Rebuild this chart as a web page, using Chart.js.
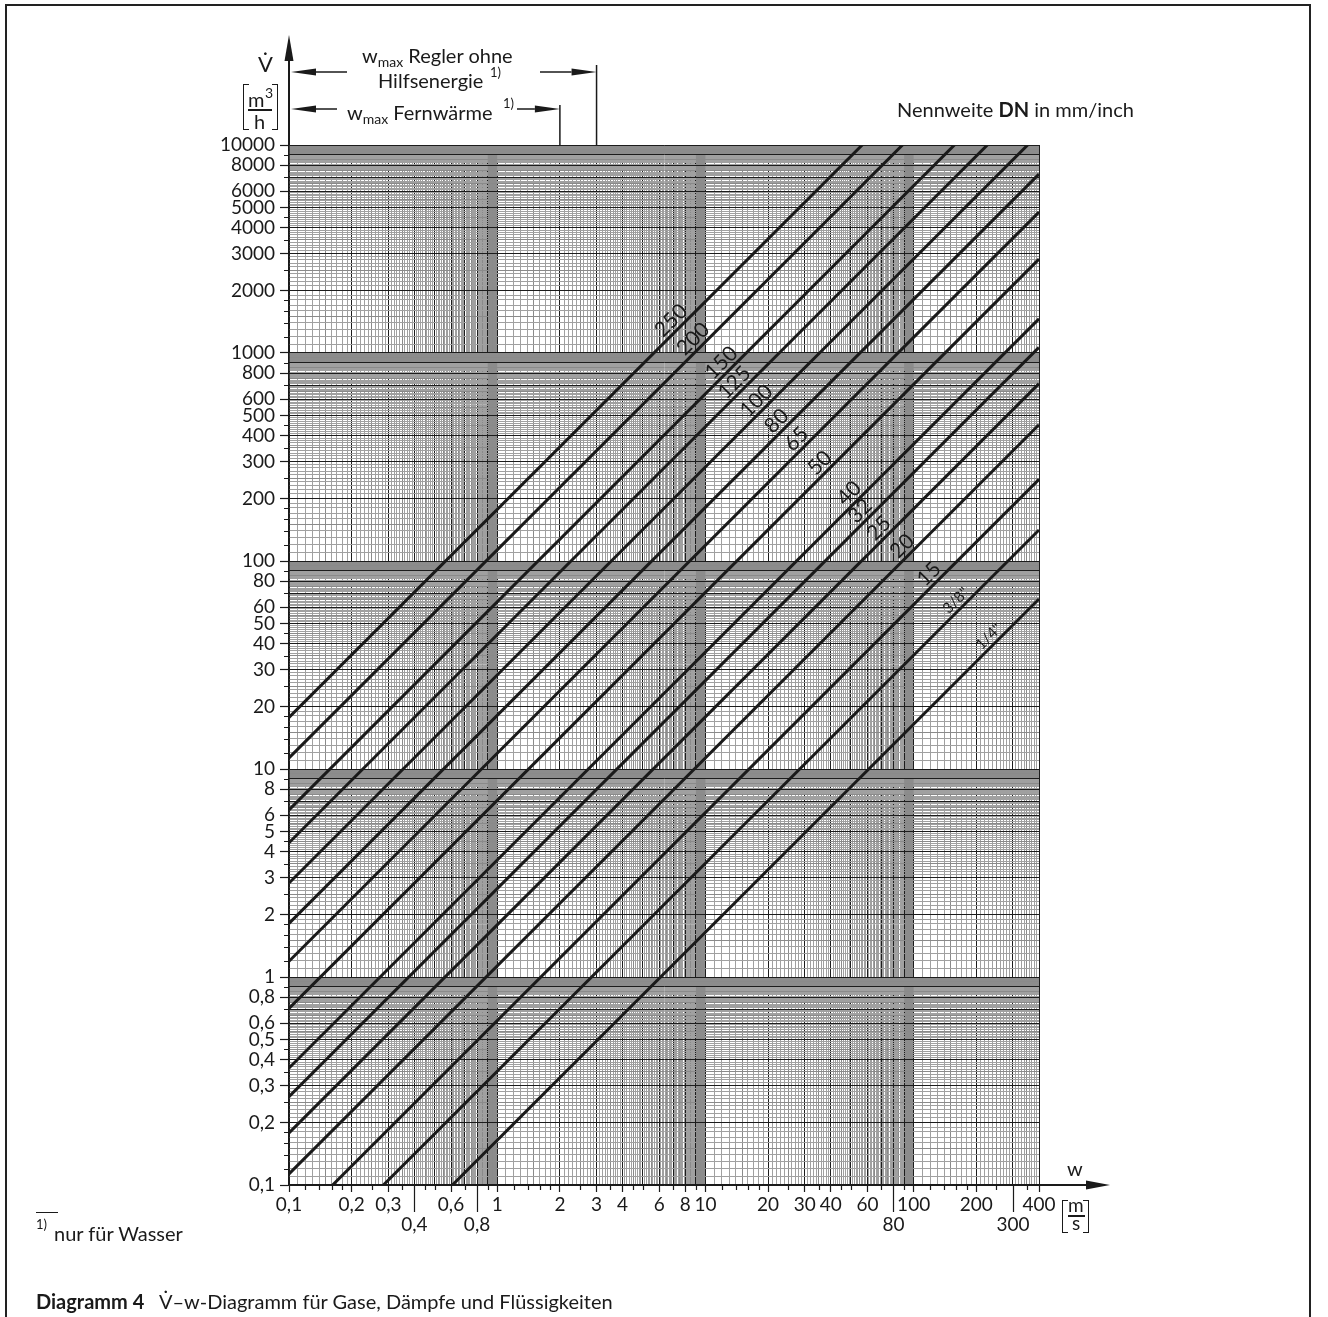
<!DOCTYPE html>
<html lang="de">
<head>
<meta charset="utf-8">
<title>V̇–w-Diagramm</title>
<script src="https://cdn.jsdelivr.net/npm/chart.js@4.4.1/dist/chart.umd.min.js"></script>
<style>
  html, body { margin: 0; padding: 0; background: #fff; }
  body { width: 1328px; height: 1317px; position: relative; overflow: hidden;
         font-family: Lato, 'Open Sans', sans-serif; color: #1a1a1a; }
  #frame { position: absolute; left: 5px; top: 4px; width: 1306px; height: 1340px;
           border: 2px solid #222; box-sizing: border-box; }
  #chart { position: absolute; left: 0; top: 0; }
  .t { position: absolute; white-space: nowrap; font-size: 20px; line-height: 20px; }
  .sub { font-size: 14px; position: relative; top: 4px; }
  .sup { position: absolute; white-space: nowrap; font-size: 13px; line-height: 13px; }
  .bl { position: absolute; width: 5px; border: 1.6px solid #1a1a1a; border-right: none; }
  .br { position: absolute; width: 5px; border: 1.6px solid #1a1a1a; border-left: none; }
  .bar { position: absolute; height: 1.5px; background: #1a1a1a; }
  b { font-weight: 700; }
</style>
</head>
<body>
<div id="frame"></div>
<canvas id="chart" width="1328" height="1317"></canvas>

<!-- y axis title -->
<div class="t" style="left:258px; top:54px; font-size:22px;">V̇</div>
<div class="bl" style="left:243px; top:84px; height:44px;"></div>
<div class="br" style="left:272px; top:84px; height:44px;"></div>
<div class="t" style="left:248px; top:89px;">m</div>
<div class="sup" style="left:265px; top:86px; font-size:14px;">3</div>
<div class="bar" style="left:248px; top:109px; width:24px;"></div>
<div class="t" style="left:254px; top:111px;">h</div>

<!-- w_max annotations -->
<div class="t" style="left:362px; top:45px;">w<span class="sub">max</span> Regler ohne</div>
<div class="t" style="left:378px; top:70px;">Hilfsenergie</div>
<div class="sup" style="left:490px; top:66px;">1)</div>
<div class="t" style="left:347px; top:102px;">w<span class="sub">max</span> Fernwärme</div>
<div class="sup" style="left:503px; top:97px;">1)</div>

<div class="t" style="left:897px; top:99px;">Nennweite <b>DN</b> in mm/inch</div>

<!-- x axis title -->
<div class="t" style="left:1067px; top:1158px;">w</div>
<div class="bl" style="left:1062px; top:1200px; height:31px;"></div>
<div class="br" style="left:1083px; top:1200px; height:31px;"></div>
<div class="t" style="left:1068px; top:1195px; font-size:19px;">m</div>
<div class="bar" style="left:1068px; top:1215px; width:17px;"></div>
<div class="t" style="left:1072px; top:1213px; font-size:19px;">s</div>

<!-- footnote and caption -->
<div class="bar" style="left:36px; top:1212px; width:22px; height:1px;"></div>
<div class="sup" style="left:36px; top:1218px;">1)</div>
<div class="t" style="left:54px; top:1223px; font-size:20px;">nur für Wasser</div>
<div class="t" style="left:36px; top:1291px; font-size:20px;"><b>Diagramm 4</b>&nbsp;&nbsp; V̇–w-Diagramm für Gase, Dämpfe und Flüssigkeiten</div>

<script>
// nominal size of each line (DN in mm or inch)
const dnLabels = ['250', '200', '150', '125', '100', '80', '65', '50', '40', '32', '25', '20', '15', '3/8"', '1/4"'];
// line end points: velocity w [m/s] and flow V [m3/h]
const startW = [0.1, 0.1, 0.1, 0.1, 0.1, 0.1, 0.1, 0.1, 0.1, 0.1, 0.1, 0.1, 0.162, 0.284, 0.609];
const startV = [17.7, 11.3, 6.36, 4.42, 2.83, 1.81, 1.19, 0.707, 0.365, 0.266, 0.178, 0.113, 0.1, 0.1, 0.1];
const endW = [56.6, 88.4, 157, 226, 353, 400, 400, 400, 400, 400, 400, 400, 400, 400, 400];
const endV = [10000, 10000, 10000, 10000, 10000, 7240, 4760, 2830, 1460, 1064, 712, 452, 247, 141, 65.7];
// where along each line its DN label sits (w value)
const labelAtW = [7.44, 9.5, 12.97, 14.98, 19.1, 23.9, 29.8, 38.5, 53.3, 60.1, 74.2, 95.8, 129, 171, 246];

// w_max limits (vertical marks above the plot)
const wRegler = 3;
const wFern = 2;

// tick labels
const xRow1 = [0.1, 0.2, 0.3, 0.6, 1, 2, 3, 4, 6, 8, 10, 20, 30, 40, 60, 100, 200, 400];
const xRow2 = [0.4, 0.8, 80, 300];
const yLabels = [0.1, 0.2, 0.3, 0.4, 0.5, 0.6, 0.8, 1, 2, 3, 4, 5, 6, 8, 10, 20, 30, 40, 50, 60, 80,
                 100, 200, 300, 400, 500, 600, 800, 1000, 2000, 3000, 4000, 5000, 6000, 8000, 10000];
// extra short tick marks (mantissas within each decade)
const xMarkMant = [1.2, 1.4, 1.6, 1.8, 2.5, 3.5, 4.5, 5, 7, 9];
const yMarkMant = [1.2, 1.4, 1.6, 1.8, 2.5, 3.5, 4.5, 7, 9];
// dark bands at the end of every decade (mantissa range)
const bandMant = [9, 10];

const xMin = 0.1, xMax = 400, yMin = 0.1, yMax = 10000;

const key = v => Number(v).toPrecision(4);
const xRow1Keys = new Set(xRow1.map(key));
const xRow2Keys = new Set(xRow2.map(key));
const yLabelKeys = new Set(yLabels.map(key));
const fmt = v => String(v).replace('.', ',');

function mant(v) {
    const e = Math.floor(Math.log10(v) + 1e-9);
    return Math.round(v / Math.pow(10, e) * 10) / 10;
}

// log paper lines: 90 per decade
function paperTicks(lo, hi) {
    const out = [];
    for (let e = Math.round(Math.log10(lo)); e < Math.ceil(Math.log10(hi) - 1e-9); e++) {
        for (let m = 10; m < 100; m++) {
            const v = +(m * Math.pow(10, e - 1)).toPrecision(4);
            if (v >= lo && v <= hi) out.push(v);
        }
    }
    if (out[out.length - 1] !== hi) out.push(hi);
    return out;
}

function decadeValues(lo, hi, mants) {
    const out = [];
    for (let e = Math.round(Math.log10(lo)); e <= Math.ceil(Math.log10(hi)); e++) {
        mants.forEach(m => {
            const v = +(m * Math.pow(10, e)).toPrecision(4);
            if (v >= lo && v <= hi) out.push(v);
        });
    }
    return out;
}

function gridColor(ctx) {
    if (!ctx.tick) return '#1a1a1a';
    const m = mant(ctx.tick.value);
    if (Number.isInteger(m)) return '#1c1c1c';
    if (Number.isInteger(m * 2)) return '#8a8a8a';
    return '#a0a0a0';
}

function arrow(ctx, x1, y1, x2, y2, len, half) {
    const ang = Math.atan2(y2 - y1, x2 - x1);
    const bx = x2 - len * Math.cos(ang), by = y2 - len * Math.sin(ang);
    ctx.beginPath();
    ctx.moveTo(x1, y1);
    ctx.lineTo(bx, by);
    ctx.stroke();
    ctx.beginPath();
    ctx.moveTo(x2, y2);
    ctx.lineTo(bx - half * Math.sin(ang), by + half * Math.cos(ang));
    ctx.lineTo(bx + half * Math.sin(ang), by - half * Math.cos(ang));
    ctx.closePath();
    ctx.fill();
}

const paperPlugin = {
    id: 'paper',
    beforeDatasetsDraw(chart) {
        const { ctx, chartArea: a, scales: { x, y } } = chart;
        ctx.save();
        ctx.globalCompositeOperation = 'darken';
        ctx.fillStyle = '#8c8c8c';
        decadeValues(xMin, xMax, [bandMant[0]]).forEach(v => {
            const l = x.getPixelForValue(v), r = x.getPixelForValue(v / bandMant[0] * bandMant[1]);
            ctx.fillRect(l, a.top, Math.min(r, a.right) - l, a.bottom - a.top);
        });
        decadeValues(yMin, yMax, [bandMant[0]]).forEach(v => {
            const b = y.getPixelForValue(v), t = y.getPixelForValue(v / bandMant[0] * bandMant[1]);
            ctx.fillRect(a.left, Math.max(t, a.top), a.right - a.left, b - Math.max(t, a.top));
        });
        ctx.restore();
    },
    afterDatasetsDraw(chart) {
        const { ctx, scales: { x, y } } = chart;
        ctx.save();
        ctx.fillStyle = '#1a1a1a';
        ctx.textAlign = 'center';
        ctx.textBaseline = 'alphabetic';
        dnLabels.forEach((dn, i) => {
            const x0 = x.getPixelForValue(startW[i]), y0 = y.getPixelForValue(startV[i]);
            const x1 = x.getPixelForValue(endW[i]), y1 = y.getPixelForValue(endV[i]);
            const t = (Math.log10(labelAtW[i]) - Math.log10(startW[i])) /
                      (Math.log10(endW[i]) - Math.log10(startW[i]));
            ctx.save();
            ctx.translate(x0 + t * (x1 - x0), y0 + t * (y1 - y0));
            ctx.rotate(Math.atan2(y1 - y0, x1 - x0));
            ctx.font = (dn.includes('/') ? '15px' : '21px') + ' Lato, sans-serif';
            ctx.fillText(dn, 0, -4);
            ctx.restore();
        });
        ctx.restore();
    },
    afterDraw(chart) {
        const { ctx, chartArea: a, scales: { x, y } } = chart;
        ctx.save();
        ctx.strokeStyle = '#1a1a1a';
        ctx.fillStyle = '#1a1a1a';

        // short tick marks
        ctx.lineWidth = 1.2;
        ctx.beginPath();
        decadeValues(xMin, xMax, xMarkMant).forEach(v => {
            const px = Math.round(x.getPixelForValue(v)) + 0.5;
            ctx.moveTo(px, a.bottom);
            ctx.lineTo(px, a.bottom + 5);
        });
        decadeValues(yMin, yMax, yMarkMant).forEach(v => {
            const py = Math.round(y.getPixelForValue(v)) + 0.5;
            ctx.moveTo(a.left - 5, py);
            ctx.lineTo(a.left, py);
        });
        // long ticks for the second label row
        xRow2.forEach(v => {
            const px = Math.round(x.getPixelForValue(v)) + 0.5;
            ctx.moveTo(px, a.bottom);
            ctx.lineTo(px, a.bottom + 27);
        });
        ctx.stroke();

        // axis arrows
        ctx.lineWidth = 2;
        arrow(ctx, a.left, a.top, a.left, 35, 26, 4.5);
        arrow(ctx, a.right, a.bottom, 1110, a.bottom, 24, 4.5);

        // w_max marks
        const xr = x.getPixelForValue(wRegler), xf = x.getPixelForValue(wFern);
        ctx.lineWidth = 1.5;
        ctx.beginPath();
        ctx.moveTo(xr, a.top); ctx.lineTo(xr, 65);
        ctx.moveTo(xf, a.top); ctx.lineTo(xf, 105);
        ctx.stroke();
        arrow(ctx, 347, 72, a.left + 2, 72, 25, 3.5);
        arrow(ctx, 540, 72, xr, 72, 25, 3.5);
        arrow(ctx, 337, 109, a.left + 2, 109, 25, 3.5);
        arrow(ctx, 517, 109, xf, 109, 25, 3.5);
        ctx.restore();
    }
};

new Chart(document.getElementById('chart'), {
    type: 'line',
    data: {
        datasets: dnLabels.map((dn, i) => ({
            label: 'DN ' + dn,
            data: [{ x: startW[i], y: startV[i] }, { x: endW[i], y: endV[i] }],
            borderColor: '#1a1a1a',
            borderWidth: 3,
            pointRadius: 0,
            tension: 0,
            fill: false
        }))
    },
    options: {
        responsive: false,
        animation: false,
        devicePixelRatio: 1,
        layout: { padding: { left: 209, top: 145, right: 289, bottom: 72 } },
        plugins: { legend: { display: false }, tooltip: { enabled: false } },
        scales: {
            x: {
                type: 'logarithmic',
                position: 'bottom',
                min: xMin,
                max: xMax,
                afterBuildTicks: s => { s.ticks = paperTicks(xMin, xMax).map(v => ({ value: v })); },
                afterFit: s => { s.height = 60; },
                ticks: {
                    autoSkip: false, maxRotation: 0, minRotation: 0, padding: 2, color: '#1a1a1a',
                    font: { family: 'Lato', size: 19, lineHeight: 1.1 },
                    callback: v => xRow1Keys.has(key(v)) ? fmt(v) : (xRow2Keys.has(key(v)) ? ['', fmt(v)] : '')
                },
                grid: {
                    color: gridColor, lineWidth: 1, tickLength: 7, tickWidth: 1.2,
                    tickColor: c => c.tick && (xRow1Keys.has(key(c.tick.value))) ? '#1a1a1a' : 'rgba(0,0,0,0)'
                },
                border: { display: true, color: '#1a1a1a', width: 1.5 }
            },
            y: {
                type: 'logarithmic',
                position: 'left',
                min: yMin,
                max: yMax,
                afterBuildTicks: s => { s.ticks = paperTicks(yMin, yMax).map(v => ({ value: v })); },
                afterFit: s => { s.width = 80; },
                ticks: {
                    autoSkip: false, padding: 5, color: '#1a1a1a',
                    font: { family: 'Lato', size: 19 },
                    callback: v => yLabelKeys.has(key(v)) ? fmt(v) : ''
                },
                grid: {
                    color: gridColor, lineWidth: 1, tickLength: 9, tickWidth: 1.2,
                    tickColor: c => c.tick && yLabelKeys.has(key(c.tick.value)) ? '#1a1a1a' : 'rgba(0,0,0,0)'
                },
                border: { display: true, color: '#1a1a1a', width: 1.5 }
            }
        }
    },
    plugins: [paperPlugin]
});
</script>
</body>
</html>
